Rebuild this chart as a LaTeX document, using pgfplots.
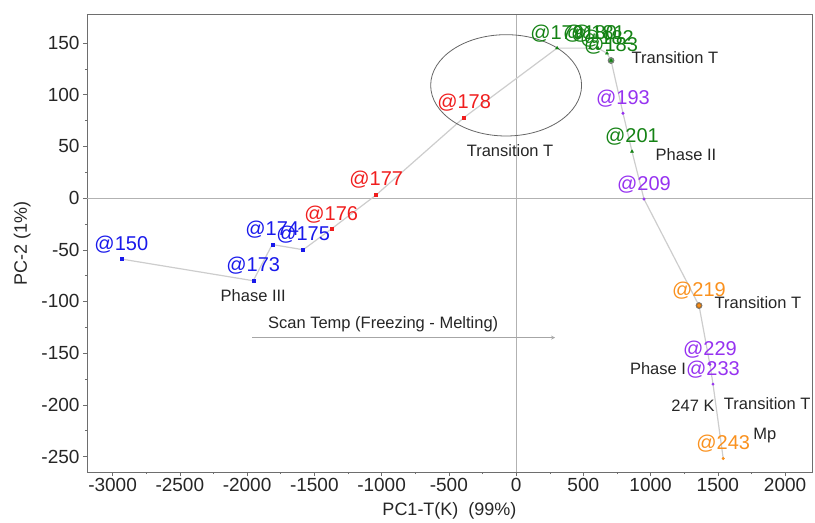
\documentclass[border=0pt]{standalone}
\usepackage{fontspec}
\setmainfont{Liberation Sans}
\usepackage{pgfplots}
\pgfplotsset{compat=1.18}
\definecolor{cblue}{RGB}{25,25,235}
\definecolor{cred}{RGB}{240,30,30}
\definecolor{cgreen}{RGB}{20,130,20}
\definecolor{cpurple}{RGB}{150,50,240}
\definecolor{corange}{RGB}{250,145,30}
\definecolor{cline}{RGB}{205,205,205}
\definecolor{cframe}{RGB}{110,110,110}

\pgfplotsset{
  lbl/.style={
    nodes near coords={\pgfplotspointmeta},
    point meta=explicit symbolic,
    every node near coord/.append style={font=\fontsize{20}{20}\selectfont, text=#1, anchor=base, yshift=9pt, inner sep=0pt},
  },
}

\begin{document}
\begin{tikzpicture}
\begin{axis}[
  name=main,
  scale only axis,
  width=725pt, height=458pt,
  xmin=-3190, xmax=2200,
  ymin=-265, ymax=178,
  xtick={-3000,-2500,...,2000},
  ytick={-250,-200,...,150},
  minor x tick num=1,
  minor y tick num=1,
  tick align=outside,
  tick pos=left,
  major tick length=4pt,
  minor tick length=2pt,
  every tick/.style={cframe},
  axis line style={cframe},
  /pgf/number format/assume math mode=true,
  /pgf/number format/set thousands separator={},
  tick label style={font=\fontsize{19}{19}\selectfont, text=black!85},
  xticklabel style={yshift=1pt},
  xlabel={PC1-T(K)\ \ (99\%)},
  ylabel={PC-2 (1\%)},
  label style={font=\fontsize{18}{18}\selectfont, text=black!85},
  xlabel style={yshift=-4pt},
  ylabel style={yshift=4pt},
  clip=false,
]
% zero lines
\draw[black!30, line width=0.8pt] (axis cs:0,-265) -- (axis cs:0,178);
\draw[black!30, line width=0.8pt] (axis cs:-3190,0) -- (axis cs:2200,0);

% trajectory
\addplot[cline, line width=1.2pt, no markers] coordinates {
  (-2935,-59) (-1954,-80) (-1813,-45) (-1583,-50) (-1374,-30) (-1040,3) (-386,78)
  (305,145) (550,145) (609,145) (676,140) (706,133)
  (795,82) (862,45) (951,-1) (1360,-104) (1441,-161) (1464,-180) (1540,-252)
};

% ring markers
\addplot[only marks, mark=*, mark size=3pt, mark options={fill=cgreen!70!black!60, draw=black!55, line width=0.7pt}] coordinates {(706,133)};
\addplot[only marks, mark=*, mark size=3pt, mark options={fill=corange!80!black, draw=black!55, line width=0.7pt}] coordinates {(1360,-104)};

% blue
\addplot[only marks, mark=square*, mark size=1.5pt, cblue, lbl=cblue] coordinates {
  (-2935,-59) [@150] (-1954,-80) [@173] (-1813,-45) [@174] (-1583,-50) [@175]
};
% red
\addplot[only marks, mark=square*, mark size=1.5pt, cred, lbl=cred] coordinates {
  (-1374,-30) [@176] (-1040,3) [@177] (-386,78) [@178]
};
% green
\addplot[only marks, mark=triangle*, mark size=1.8pt, cgreen, lbl=cgreen] coordinates {
  (305,145) [@179] (550,145) [@180] (609,145) [@181] (676,140) [@182] (706,133) [@183] (862,45) [@201]
};
% purple
\addplot[only marks, mark=*, mark size=1.3pt, cpurple, lbl=cpurple] coordinates {
  (795,82) [@193] (951,-1) [@209] (1441,-161) [@229] (1464,-180) [@233]
};
% orange
\addplot[only marks, mark=*, mark size=1.3pt, corange, lbl=corange] coordinates {
  (1360,-104) [@219] (1540,-252) [@243]
};

% annotations
\draw[black!60, line width=0.8pt] (axis cs:-74,109) ellipse [x radius=561, y radius=49];
\begin{scope}[every node/.style={font=\fontsize{16.5}{16.5}\selectfont, text=black!85}]
\node at (axis cs:-45,46) {Transition T};
\node at (axis cs:1181,136) {Transition T};
\node at (axis cs:1263,42) {Phase II};
\node at (axis cs:1798,-101) {Transition T};
\node at (axis cs:-1954,-94) {Phase III};
\node at (axis cs:1055,-165) {Phase I};
\node at (axis cs:1315,-201) {247 K};
\node[anchor=east, inner sep=0pt] at (axis cs:2190,-199) {Transition T};
\node at (axis cs:1850,-230) {Mp};
\node at (axis cs:-988,-122) {Scan Temp (Freezing - Melting)};
\end{scope}
\draw[black!35, line width=0.8pt, -stealth] (axis cs:-1961,-135) -- (axis cs:290,-135);

% frame top/right
\draw[cframe] (rel axis cs:0,1) -- (rel axis cs:1,1) -- (rel axis cs:1,0);
\end{axis}
\path ([xshift=3pt,yshift=14pt]main.north east);
\path ([xshift=-87pt,yshift=-45pt]main.south west);
\end{tikzpicture}
\end{document}
